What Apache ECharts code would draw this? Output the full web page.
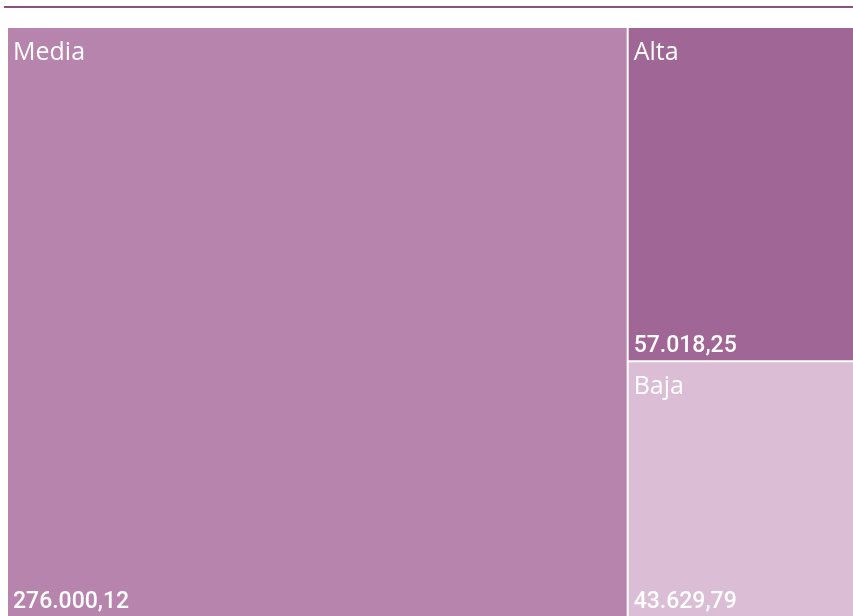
<!DOCTYPE html>
<html>
<head>
<meta charset="utf-8">
<script src="https://cdn.jsdelivr.net/npm/echarts@6/dist/echarts.min.js"></script>
<style>
  html, body { margin: 0; padding: 0; background: #fff; }
  #chart { width: 853px; height: 616px; }
</style>
</head>
<body>
<div id="chart"></div>
<script>
// categorías y valores
const categories = ['Media', 'Alta', 'Baja'];
const values = [276000.12, 57018.25, 43629.79];
const colors = ['#b784ad', '#a06696', '#dbbdd5'];

function fmt(v) {
  return v.toLocaleString('de-DE', { minimumFractionDigits: 2, maximumFractionDigits: 2 });
}

const data = categories.map((c, i) => ({
  name: c,
  value: values[i],
  itemStyle: { color: colors[i] }
}));

const common = {
  type: 'treemap',
  left: 8, top: 28, right: 0, bottom: 0,
  roam: false,
  nodeClick: false,
  breadcrumb: { show: false },
  levels: [{ itemStyle: { gapWidth: 2, borderWidth: 0, borderColor: '#fff' } }],
  emphasis: { disabled: true },
  silent: true
};

const chart = echarts.init(document.getElementById('chart'));
chart.setOption({
  animation: false,
  graphic: [{
    type: 'rect',
    shape: { x: 4, y: 6, width: 849, height: 2 },
    style: { fill: '#8a517f' }
  }],
  series: [
    Object.assign({}, common, {
      data: data,
      label: {
        show: true,
        position: 'insideTopLeft',
        distance: 0,
        padding: [12, 5, 0, 5],
        color: '#fff',
        fontSize: 25,
        fontFamily: 'Open Sans',
        formatter: p => p.name
      }
    }),
    Object.assign({}, common, {
      data: data.map(d => ({ name: d.name, value: d.value, itemStyle: { color: 'rgba(0,0,0,0)' } })),
      label: {
        show: true,
        position: 'insideBottomLeft',
        distance: 0,
        padding: [0, 5, 2, 5],
        color: '#fff',
        fontSize: 23,
        fontWeight: 500,
        fontFamily: 'Roboto',
        formatter: p => fmt(p.value)
      }
    })
  ]
});
</script>
</body>
</html>
